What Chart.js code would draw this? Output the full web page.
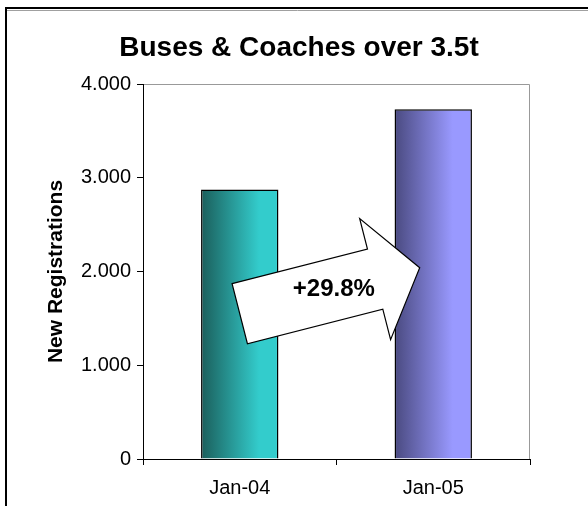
<!DOCTYPE html>
<html>
<head>
<meta charset="utf-8">
<script src="https://cdn.jsdelivr.net/npm/chart.js@4.4.1/dist/chart.umd.min.js"></script>
<style>
  html, body { margin: 0; padding: 0; background: #fff; }
  #wrap { width: 588px; height: 506px; position: relative; }
</style>
</head>
<body>
<div id="wrap"><canvas id="chart"></canvas></div>
<script>
const categories = ['Jan-04', 'Jan-05'];
const registrations = [2875, 3731];
const yTicks = [0, 1000, 2000, 3000, 4000];
const chartTitle = 'Buses & Coaches over 3.5t';
const changeLabel = '+29.8%';
// arrow ends as (category index, value)
const arrowFrom = [0, 1550];
const arrowTo = [0.93, 2040];

const barDark = ['#1b5e5b', '#4a4a80'];
const barLight = ['#33cccc', '#9999ff'];
const FONT = "'Liberation Sans', Arial, sans-serif";

function fmt(v) {
  return String(v).replace(/\B(?=(\d{3})+(?!\d))/g, '.');
}

function barFill(ctx) {
  const chart = ctx.chart;
  const xs = chart.scales.x;
  const i = ctx.dataIndex;
  if (!chart.chartArea || !xs) return barLight[i];
  const cx = xs.getPixelForValue(i);
  const half = xs.width / categories.length * 0.4 / 2;
  const g = chart.ctx.createLinearGradient(cx - half, 0, cx + half, 0);
  g.addColorStop(0, barDark[i]);
  g.addColorStop(0.75, barLight[i]);
  g.addColorStop(1, barLight[i]);
  return g;
}

// white background, outer frame, title, grey plot border
const framePlugin = {
  id: 'frame',
  beforeDraw(chart) {
    const c = chart.ctx;
    const a = chart.chartArea;
    c.save();
    c.fillStyle = '#fff';
    c.fillRect(0, 0, chart.width, chart.height);
    c.strokeStyle = '#000';
    c.lineWidth = 2;
    c.beginPath();
    c.moveTo(chart.width, 8);
    c.lineTo(6, 8);
    c.lineTo(6, chart.height);
    c.stroke();
    c.strokeStyle = '#a0a0a0';
    c.lineWidth = 1;
    c.beginPath();
    c.moveTo(7, 10.5);
    c.lineTo(chart.width, 10.5);
    c.stroke();
    c.strokeStyle = '#999';
    c.beginPath();
    c.moveTo(a.left, a.top + 0.5);
    c.lineTo(a.right - 0.5, a.top + 0.5);
    c.lineTo(a.right - 0.5, a.bottom);
    c.stroke();
    c.fillStyle = '#000';
    c.font = 'bold 28px ' + FONT;
    c.textAlign = 'center';
    c.textBaseline = 'middle';
    c.fillText(chartTitle, 299, 48);
    c.restore();
  }
};

// block arrow with the growth label
const arrowPlugin = {
  id: 'growthArrow',
  afterDatasetsDraw(chart) {
    const xs = chart.scales.x, ys = chart.scales.y;
    const x0 = xs.getPixelForValue(arrowFrom[0]), y0 = ys.getPixelForValue(arrowFrom[1]);
    const x1 = xs.getPixelForValue(arrowTo[0]), y1 = ys.getPixelForValue(arrowTo[1]);
    const len = Math.hypot(x1 - x0, y1 - y0);
    const dx = (x1 - x0) / len, dy = (y1 - y0) / len;
    const nx = -dy, ny = dx;
    const shaftHalf = 31, headHalf = 62.5, headLen = 46;
    const s = len - headLen;
    const pt = (along, side) => [x0 + dx * along + nx * side, y0 + dy * along + ny * side];
    const pts = [
      pt(0, -shaftHalf), pt(s, -shaftHalf), pt(s, -headHalf), pt(len, 0),
      pt(s, headHalf), pt(s, shaftHalf), pt(0, shaftHalf)
    ];
    const c = chart.ctx;
    c.save();
    c.beginPath();
    pts.forEach((p, k) => k ? c.lineTo(p[0], p[1]) : c.moveTo(p[0], p[1]));
    c.closePath();
    c.fillStyle = '#fff';
    c.fill();
    c.strokeStyle = '#000';
    c.lineWidth = 1.2;
    c.stroke();
    const t = pt(len * 0.523, 0);
    c.fillStyle = '#000';
    c.font = 'bold 24px ' + FONT;
    c.textAlign = 'center';
    c.textBaseline = 'middle';
    c.fillText(changeLabel, t[0], t[1]);
    c.restore();
  }
};

new Chart(document.getElementById('chart'), {
  type: 'bar',
  data: {
    labels: categories,
    datasets: [{
      data: registrations,
      backgroundColor: barFill,
      borderColor: '#000',
      borderWidth: 1.5,
      barPercentage: 0.4,
      categoryPercentage: 1
    }]
  },
  options: {
    responsive: true,
    maintainAspectRatio: false,
    animation: false,
    layout: { padding: { left: 0, right: 58, top: 84, bottom: 0 } },
    plugins: {
      legend: { display: false },
      tooltip: { enabled: false },
      title: { display: false }
    },
    scales: {
      x: {
        grid: { offset: true, drawOnChartArea: false, tickLength: 6, color: '#000' },
        border: { color: '#000', width: 1 },
        ticks: { color: '#000', font: { family: FONT, size: 20 }, padding: 11, maxRotation: 0 },
        afterFit(s) { s.height = 47; }
      },
      y: {
        min: 0,
        max: 4000,
        afterBuildTicks(s) { s.ticks = yTicks.map(v => ({ value: v })); },
        grid: { drawOnChartArea: false, tickLength: 6, color: '#000' },
        border: { color: '#000', width: 1 },
        ticks: { color: '#000', font: { family: FONT, size: 20 }, padding: 6, callback: v => fmt(v) },
        title: {
          display: true,
          text: 'New Registrations',
          color: '#000',
          font: { family: FONT, size: 21, weight: 'bold' },
          padding: { top: 44, bottom: 0 }
        },
        afterFit(s) { s.width = 143; }
      }
    }
  },
  plugins: [framePlugin, arrowPlugin]
});
</script>
</body>
</html>
